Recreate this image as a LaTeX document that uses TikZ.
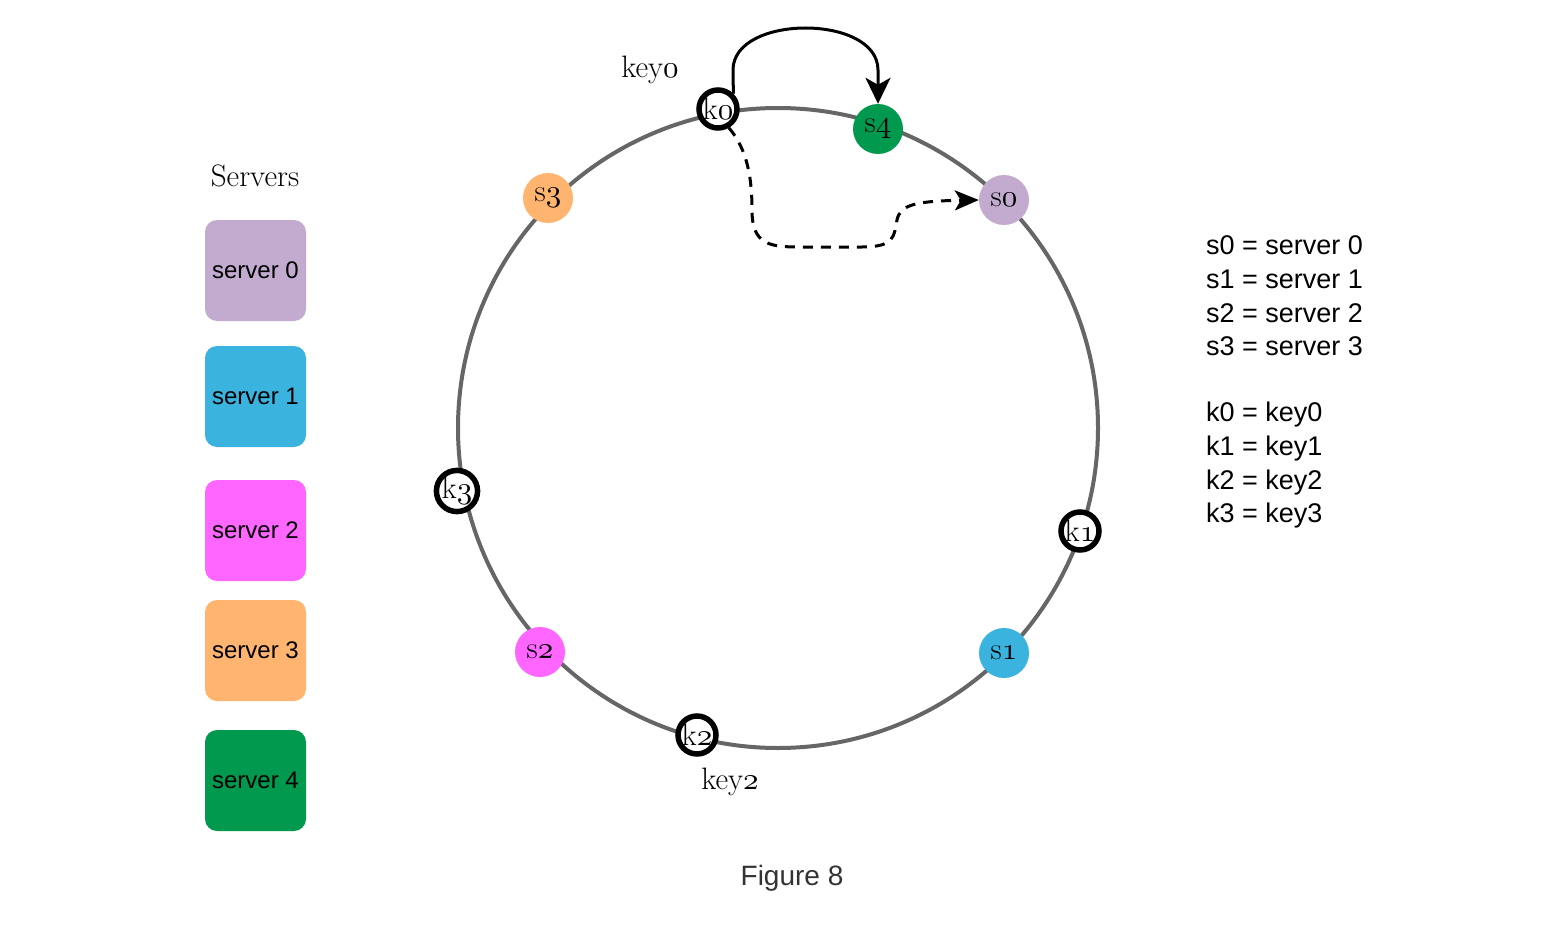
\documentclass[tikz,border=0pt]{standalone}
\usepackage{fontspec}
\newfontfamily\sansf{Liberation Sans}
\usetikzlibrary{arrows.meta}
\DeclareFontFamily{OML}{myosn}{\skewchar\font=127}
\DeclareFontShape{OML}{myosn}{m}{it}{<->cmmi10}{}
\newcommand\osn[1]{{\usefont{OML}{myosn}{m}{it}#1}}
\definecolor{srvA}{HTML}{C3ABD0}
\definecolor{srvB}{HTML}{3AB4DE}
\definecolor{srvC}{HTML}{FF66FF}
\definecolor{srvD}{HTML}{FFB570}
\definecolor{srvE}{HTML}{00994D}
\definecolor{ringgray}{HTML}{666666}
\definecolor{captiongray}{HTML}{333333}
\begin{document}
\begin{tikzpicture}[x=1pt,y=-1pt,
  ring/.style={draw=ringgray,line width=4pt},
  srvnode/.style={circle,minimum size=50pt,inner sep=0pt,font=\fontsize{31}{34}\selectfont},
  keynode/.style={circle,draw=black,fill=white,line width=5.5pt,minimum size=38pt,inner sep=0pt,font=\fontsize{31}{34}\selectfont},
  srvbox/.style={rounded corners=12pt,minimum width=101pt,minimum height=101pt,inner sep=0pt,font=\sansf\fontsize{24}{28}\selectfont},
  legend/.style={anchor=base west,inner sep=0pt,font=\sansf\fontsize{27}{30}\selectfont},
  serif30/.style={inner sep=0pt,font=\fontsize{31}{34}\selectfont}
]
\useasboundingbox (0,0) rectangle (1556,950);
\fill[white] (0,0) rectangle (1556,950);

% ring
\node[circle,ring,minimum size=640pt,inner sep=0pt] (ring) at (778,428) {};

% servers on ring
\node[srvnode,fill=srvE] (s4) at (878,129) {s\osn{4}};
\node[srvnode,fill=srvA] (s0) at (1004,200) {s\osn{0}};
\node[srvnode,fill=srvD] (s3) at (548,198) {s\osn{3}};
\node[srvnode,fill=srvC] (s2) at (540,652) {s\osn{2}};
\node[srvnode,fill=srvB] (s1) at (1004,653) {s\osn{1}};

% keys on ring
\node[keynode] (k0) at (718,109) {k\osn{0}};
\node[keynode] (k1) at (1080,531) {k\osn{1}};
\node[keynode] (k2) at (697,735) {k\osn{2}};
\node[keynode] (k3) at (457,491) {k\osn{3}};

% key labels
\node[serif30] (key0lbl) at (650,70) {key\osn{0}};
\node[serif30] (key2lbl) at (730,782) {key\osn{2}};

% arrows
\coordinate (up0) at (733,70);
\coordinate (up4) at (878,70);
\draw[line width=3pt,-{Stealth[length=26pt,width=25pt,inset=7pt]}]
  (k0.45) -- (up0) .. controls (733,14) and (878,14) .. (up4) -- (s4.north);
\draw[line width=3pt,dash pattern=on 10pt off 8pt,-{Stealth[length=24pt,width=20pt,inset=6pt]}]
  (k0.-60) .. controls (748,150) and (752,180) .. (752,210)
  .. controls (752,245) and (770,247) .. (800,247) -- (862,247)
  .. controls (895,247) and (894,236) .. (897,220)
  .. controls (900,205) and (915,201) .. (s0.west);

% legend boxes
\node[serif30] (srvtitle) at (255,176) {Servers};
\node[srvbox,fill=srvA] (b0) at (255.5,270.5) {server 0};
\node[srvbox,fill=srvB] (b1) at (255.5,396.5) {server 1};
\node[srvbox,fill=srvC] (b2) at (255.5,530.5) {server 2};
\node[srvbox,fill=srvD] (b3) at (255.5,650.5) {server 3};
\node[srvbox,fill=srvE] (b4) at (255.5,780.5) {server 4};

% text legend
\node[legend] (l0) at (1206,254.5) {s0 = server 0};
\node[legend] (l1) at (1206,288.5) {s1 = server 1};
\node[legend] (l2) at (1206,322.5) {s2 = server 2};
\node[legend] (l3) at (1206,355.5) {s3 = server 3};
\node[legend] (l4) at (1206,421.5) {k0 = key0};
\node[legend] (l5) at (1206,455.5) {k1 = key1};
\node[legend] (l6) at (1206,489.5) {k2 = key2};
\node[legend] (l7) at (1206,522.5) {k3 = key3};

% caption
\node[inner sep=0pt,text=captiongray,font=\sansf\fontsize{28}{32}\selectfont] (cap) at (792,878) {Figure 8};
\end{tikzpicture}
\end{document}
